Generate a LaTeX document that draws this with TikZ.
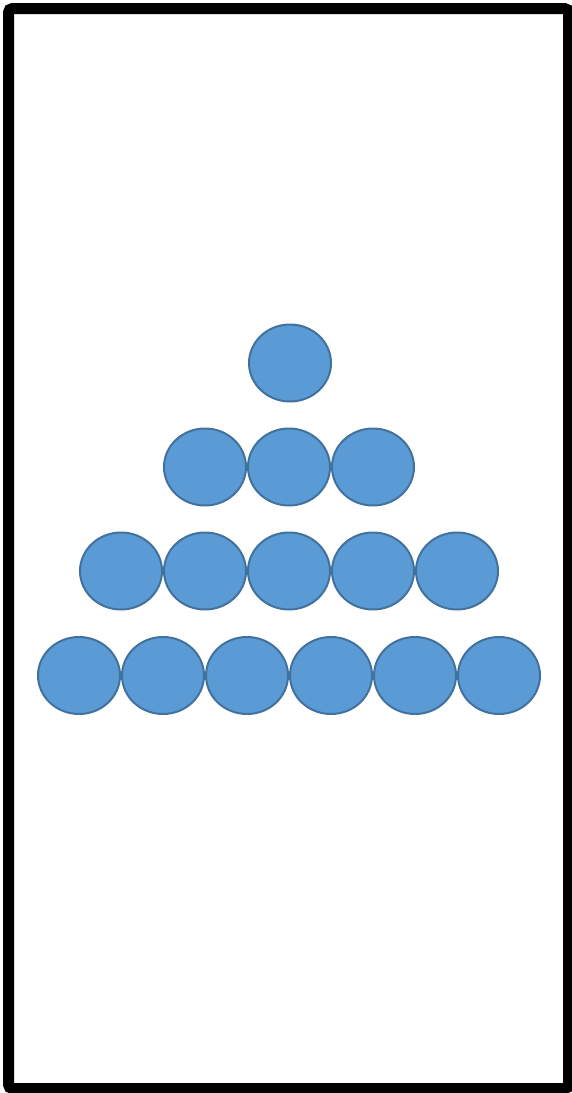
\documentclass[tikz,border=0pt]{standalone}
\usetikzlibrary{shapes.geometric}
\definecolor{ballfill}{HTML}{5B9BD5}
\definecolor{balledge}{HTML}{41719C}
\tikzset{
  ball/.style={ellipse, draw=balledge, fill=ballfill, line width=2pt,
    minimum width=82pt, minimum height=77pt, inner sep=0pt}
}
\begin{document}
\begin{tikzpicture}[x=1pt, y=-1pt]
  \useasboundingbox (0,0) rectangle (572,1093);
  % Frame
  \draw[line width=11pt, rounded corners=4pt] (8.5,8.5) rectangle (568.5,1088.5);
  % Top row: one ball
  \node[ball] (b11) at (290,363) {};
  % Second row: three balls
  \foreach \i in {1,...,3}
    \node[ball] (b2\i) at ({205+84*(\i-1)},467) {};
  % Third row: five balls
  \foreach \i in {1,...,5}
    \node[ball] (b3\i) at ({121+84*(\i-1)},571) {};
  % Bottom row: six balls
  \foreach \i in {1,...,6}
    \node[ball] (b4\i) at ({79+84*(\i-1)},675.5) {};
\end{tikzpicture}
\end{document}
